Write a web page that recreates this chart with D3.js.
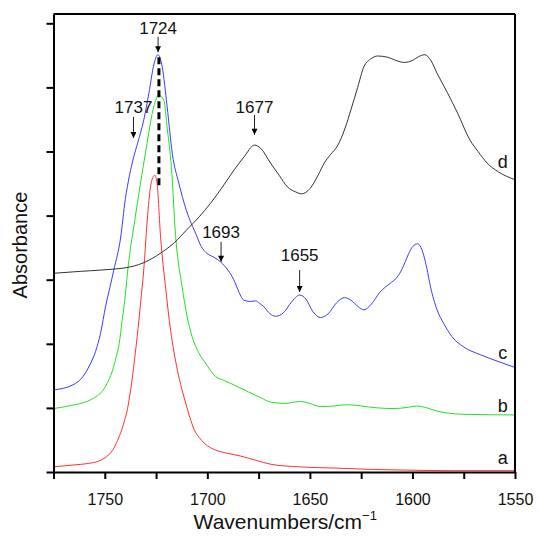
<!DOCTYPE html>
<html>
<head>
<meta charset="utf-8">
<script src="https://cdn.jsdelivr.net/npm/d3@7"></script>
<style>
  html, body { margin: 0; padding: 0; background: #fff; }
  svg { display: block; font-family: "Liberation Sans", Arial, sans-serif; }
</style>
</head>
<body>
<svg id="chart" width="539" height="540"></svg>
<script>
// ---- data (wavenumber cm^-1, absorbance offset units) ----
const seriesNames = ["a", "b", "c", "d"];

const aWn = [1775,1765,1758.8,1753,1750.5,1748,1746,1744.5,1743,1741.5,1740.2,1739,1737.8,1736.6,1735.4,1734.2,1732.5,1731,1729.3,1727.7,1726.5,1725.6,1724.5,1722.8,1720.4,1717.9,1714.6,1712.5,1710.5,1708.5,1706.4,1704,1701.5,1698.5,1695.8,1690,1684,1676,1669,1655,1636.7,1620,1604,1580,1550];
const aVal = [0.08,0.11,0.13,0.17,0.21,0.27,0.35,0.44,0.55,0.68,0.82,0.97,1.20,1.46,1.78,2.11,2.65,3.15,3.93,4.45,4.60,4.63,4.50,3.67,2.89,2.21,1.59,1.30,1.07,0.85,0.66,0.54,0.45,0.38,0.34,0.29,0.25,0.18,0.12,0.08,0.06,0.04,0.03,0.02,0.02];

const bWn = [1775,1766,1758.8,1755,1752.1,1748.9,1746.5,1744.8,1743,1741.5,1740,1738.8,1735.5,1732.6,1729.8,1726.1,1723.7,1721.2,1719.5,1717.5,1715.5,1712.3,1710,1707.4,1704,1700.9,1696,1692,1687.1,1680,1674,1669.2,1662,1655,1650,1645,1638,1632,1625,1617,1609,1602,1598,1594,1588,1583,1575,1550];
const bVal = [0.99,1.04,1.10,1.16,1.23,1.38,1.56,1.75,2.00,2.37,2.75,3.15,3.90,4.50,5.05,5.70,5.88,5.80,5.35,4.75,3.70,2.89,2.45,2.11,1.85,1.70,1.49,1.43,1.36,1.25,1.16,1.09,1.07,1.10,1.07,1.02,1.03,1.05,1.03,1.00,0.99,1.01,1.03,1.01,0.95,0.92,0.90,0.89];

const cWn = [1775,1765.5,1760.6,1757.3,1754.5,1752.1,1749.5,1747.5,1745.6,1742.3,1740,1738,1736,1734,1731,1728.5,1726.1,1724.1,1722,1719.6,1717,1714,1710.2,1705.4,1703,1700.5,1696.8,1693.6,1690,1687.1,1684.5,1682.2,1679,1676.5,1674.5,1672.5,1669.5,1666.8,1663,1659,1655,1652,1648.5,1644.8,1641,1637,1633.1,1630,1626.5,1623.7,1620,1616,1611,1608,1605.8,1603.5,1601.8,1599.8,1597.5,1595.8,1594.5,1593,1591.2,1588,1584.8,1580.7,1575,1566.9,1558.7,1550];
const cVal = [1.28,1.36,1.49,1.67,1.88,2.16,2.60,2.88,3.15,3.65,4.25,4.62,4.90,5.13,5.49,5.91,6.35,6.51,6.32,5.70,4.95,4.52,4.08,3.70,3.52,3.42,3.35,3.28,3.15,3.00,2.80,2.68,2.66,2.67,2.63,2.58,2.47,2.43,2.48,2.65,2.76,2.70,2.50,2.41,2.47,2.64,2.72,2.68,2.58,2.53,2.62,2.80,2.94,3.02,3.12,3.28,3.41,3.52,3.56,3.50,3.38,3.18,2.89,2.53,2.32,2.11,1.95,1.83,1.73,1.63];

const dWn = [1775,1762,1752,1737.5,1730,1723,1716,1710,1704,1698.5,1693,1687,1682,1677,1674,1669.2,1665,1661,1657,1654,1650,1646,1643,1640,1636.7,1633,1630,1626.7,1623.7,1620,1617,1612,1608,1604,1600,1597,1594,1591,1588,1583,1578,1572,1568,1563.6,1558,1550];
const dVal = [3.10,3.13,3.15,3.20,3.28,3.41,3.58,3.78,3.98,4.19,4.43,4.71,4.92,5.10,5.05,4.82,4.63,4.45,4.37,4.34,4.42,4.63,4.82,4.95,5.08,5.35,5.65,6.00,6.32,6.45,6.49,6.47,6.42,6.39,6.42,6.48,6.51,6.42,6.22,5.92,5.60,5.18,5.00,4.82,4.68,4.56];

const seriesColors = ["#ff3030", "#22e022", "#3a3aff", "#333333"];

// series end labels: wavenumber, absorbance of baseline
const endLabelWn = 1556;
const endLabelVal = [0.12, 0.94, 1.76, 4.74];

// peak annotations
const annLabels = ["1724", "1737", "1677", "1693", "1655"];
const annWn = [1724, 1736, 1677, 1693.3, 1655];
const annTip = [6.55, 5.21, 5.26, 3.28, 2.81];
const annStart = [6.79, 5.54, 5.57, 3.59, 3.15];
const annText = [6.83, 5.60, 5.60, 3.65, 3.29];

// dashed marker line
const dashWn = 1723.6;
const dashTop = 6.47;
const dashBottom = 4.46;

// axes
const xTicksMajor = [1750, 1700, 1650, 1600, 1550];
const xTicksAll = [1775, 1750, 1725, 1700, 1675, 1650, 1625, 1600, 1575, 1550];
const yTicks = [0, 1, 2, 3, 4, 5, 6, 7];
const xTitle = "Wavenumbers/cm";
const xTitleSup = "\u22121";
const yTitle = "Absorbance";

// ---- drawing ----
const svg = d3.select("#chart");
const L = 53.5, R = 515, T = 14, B = 472;

const x = d3.scaleLinear().domain([1775, 1550]).range([L, R]);
const y = d3.scaleLinear().domain([0, 7.145]).range([B, T]);

const line = d3.line()
  .x(d => x(d[0]))
  .y(d => y(d[1]))
  .curve(d3.curveMonotoneX);

const allWn = [aWn, bWn, cWn, dWn];
const allVal = [aVal, bVal, cVal, dVal];

// curves
const plot = svg.append("g");
allWn.forEach((wn, i) => {
  const pts = wn.map((w, j) => [w, allVal[i][j]]);
  plot.append("path")
    .attr("d", line(pts))
    .attr("fill", "none")
    .attr("stroke", seriesColors[i])
    .attr("stroke-width", 1);
});

// dashed line at 1724
svg.append("line")
  .attr("x1", x(dashWn)).attr("x2", x(dashWn))
  .attr("y1", y(dashTop)).attr("y2", y(dashBottom))
  .attr("stroke", "#000")
  .attr("stroke-width", 3)
  .attr("stroke-dasharray", "7,4");

// arrow marker
const defs = svg.append("defs");
defs.append("marker")
  .attr("id", "arrow")
  .attr("markerUnits", "userSpaceOnUse")
  .attr("viewBox", "0 0 10 10")
  .attr("refX", 10).attr("refY", 5)
  .attr("markerWidth", 7).attr("markerHeight", 6)
  .attr("orient", "auto")
  .append("path")
  .attr("d", "M0,0 L10,5 L0,10 Z")
  .attr("fill", "#000");

annLabels.forEach((lab, i) => {
  svg.append("line")
    .attr("x1", x(annWn[i])).attr("x2", x(annWn[i]))
    .attr("y1", y(annStart[i])).attr("y2", y(annTip[i]))
    .attr("stroke", "#222")
    .attr("stroke-width", 1)
    .attr("marker-end", "url(#arrow)");
  svg.append("text")
    .attr("x", x(annWn[i]))
    .attr("y", y(annText[i]))
    .attr("text-anchor", "middle")
    .attr("font-size", 17)
    .attr("fill", "#111")
    .text(lab);
});

// series end labels
seriesNames.forEach((n, i) => {
  svg.append("text")
    .attr("x", x(endLabelWn))
    .attr("y", y(endLabelVal[i]))
    .attr("text-anchor", "middle")
    .attr("font-size", 18)
    .attr("fill", "#111")
    .text(n);
});

// frame: top and right
svg.append("line").attr("x1", L).attr("x2", R).attr("y1", T).attr("y2", T)
  .attr("stroke", "#000").attr("stroke-width", 2);
svg.append("line").attr("x1", R).attr("x2", R).attr("y1", T).attr("y2", B)
  .attr("stroke", "#000").attr("stroke-width", 2);

// x axis
const xAxis = svg.append("g")
  .attr("transform", `translate(0,${B})`)
  .call(d3.axisBottom(x).tickValues(xTicksAll).tickSize(7).tickSizeOuter(0)
    .tickFormat(d => xTicksMajor.includes(d) ? d3.format("d")(d) : ""));
xAxis.select(".domain").attr("stroke-width", 2).attr("stroke", "#000");
xAxis.selectAll(".tick line").attr("stroke-width", 2).attr("stroke", "#000");
xAxis.selectAll(".tick text")
  .attr("font-size", 16).attr("font-family", "Liberation Sans, Arial, sans-serif")
  .attr("fill", "#111").attr("dy", null).attr("y", 33);

// y axis
const yAxis = svg.append("g")
  .attr("transform", `translate(${L},0)`)
  .call(d3.axisLeft(y).tickValues(yTicks).tickSize(7).tickSizeOuter(0).tickFormat(""));
yAxis.select(".domain").attr("stroke-width", 2).attr("stroke", "#000");
yAxis.selectAll(".tick line").attr("stroke-width", 2).attr("stroke", "#000");

// axis titles
const xt = svg.append("text")
  .attr("x", (L + R) / 2 + 1)
  .attr("y", 529)
  .attr("text-anchor", "middle")
  .attr("font-size", 21)
  .attr("fill", "#111");
xt.append("tspan").text(xTitle);
xt.append("tspan").attr("dy", -9).attr("font-size", 13).text(xTitleSup);

svg.append("text")
  .attr("transform", `translate(27,${(T + B) / 2 + 2}) rotate(-90)`)
  .attr("text-anchor", "middle")
  .attr("font-size", 20)
  .attr("fill", "#111")
  .text(yTitle);
</script>
</body>
</html>
